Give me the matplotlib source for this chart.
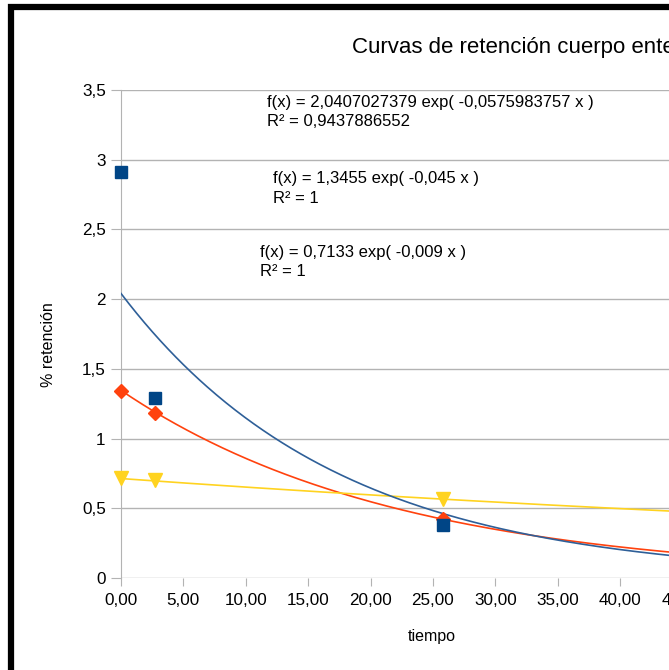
import numpy as np
import matplotlib
matplotlib.use("Agg")
import matplotlib.pyplot as plt
from matplotlib.ticker import FuncFormatter
from matplotlib.patches import Rectangle

plt.rcParams['font.family'] = ['Liberation Sans', 'DejaVu Sans']

# data
tiempo = [0.0, 2.7, 25.8]
serie_azul = [2.91, 1.29, 0.38]
serie_naranja = [1.34, 1.18, 0.42]
serie_amarilla = [0.72, 0.70, 0.57]

# trend coefficients as printed on the chart
fit_azul = (2.0407027379, -0.0575983757)
fit_naranja = (1.3455, -0.045)
fit_amarilla = (0.7133, -0.009)

c_azul = '#004586'
c_azul_linea = '#2e5f98'
c_naranja = '#ff420e'
c_amarilla = '#ffd320'

fig = plt.figure(figsize=(6.69, 6.70), dpi=100)
ax = fig.add_axes([121/669, 92/670, 624/669, 488/670])

xs = np.linspace(0, 50, 400)
ax.plot(xs, fit_naranja[0]*np.exp(fit_naranja[1]*xs), c=c_naranja, lw=1.2, zorder=3)
ax.plot(xs, fit_amarilla[0]*np.exp(fit_amarilla[1]*xs), c=c_amarilla, lw=1.2, zorder=3)
ax.plot(xs, fit_azul[0]*np.exp(fit_azul[1]*xs), c=c_azul_linea, lw=1.2, zorder=3)

ax.plot(tiempo, serie_naranja, ls='none', marker='D', ms=7.5, c=c_naranja, zorder=4, clip_on=False)
ax.plot(tiempo, serie_amarilla, ls='none', marker='v', ms=10, c=c_amarilla, zorder=4, clip_on=False)
ax.plot(tiempo, serie_azul, ls='none', marker='s', ms=9, c=c_azul, zorder=5, clip_on=False)

ax.set_xlim(0, 50)
ax.set_ylim(0, 3.5)
ax.set_xticks(np.arange(0, 51, 5))
ax.set_yticks(np.arange(0, 3.51, 0.5))
ax.xaxis.set_major_formatter(FuncFormatter(lambda v, p: ('%.2f' % v).replace('.', ',')))
ax.yaxis.set_major_formatter(FuncFormatter(lambda v, p: ('%g' % v).replace('.', ',')))
ax.grid(axis='y', color='#b3b3b3', lw=1)
ax.set_axisbelow(True)
for s in ['top', 'right', 'bottom']:
    ax.spines[s].set_visible(False)
ax.spines['left'].set_color('#b3b3b3')
ax.tick_params(colors='#b3b3b3', labelcolor='black', labelsize=12.3, direction='out')
ax.tick_params(axis='x', length=6, pad=5)
ax.tick_params(axis='y', length=7, pad=4)

ax.set_xlabel('tiempo', fontsize=11.5)
ax.set_ylabel('% retención', fontsize=11.5)
ax.xaxis.set_label_coords((432 - 121)/624, -(636 - 578)/488)
ax.yaxis.set_label_coords(-(121 - 48)/624, (578 - 345)/488)
ax.xaxis.label.set_va('center')
ax.yaxis.label.set_va('center')

fig.text(352/669, 1 - 47/670, 'Curvas de retención cuerpo entero', fontsize=16, va='center', ha='left')

ecuaciones = [
    (267, 102, 'f(x) = 2,0407027379 exp( -0,0575983757 x )'),
    (267, 122, 'R² = 0,9437886552'),
    (273, 179, 'f(x) = 1,3455 exp( -0,045 x )'),
    (273, 198, 'R² = 1'),
    (260, 252, 'f(x) = 0,7133 exp( -0,009 x )'),
    (260, 271, 'R² = 1'),
]
for px, py, t in ecuaciones:
    fig.text(px/669, 1 - py/670, t, fontsize=12, va='center', ha='left')

# black frame of the screenshot
fig.patches.append(Rectangle((11/669, -0.1), 1.2, 1 - 7/670 + 0.1, transform=fig.transFigure,
                             fill=False, ec='black', lw=4.5, zorder=10))

fig.savefig('out.png', dpi=100)
